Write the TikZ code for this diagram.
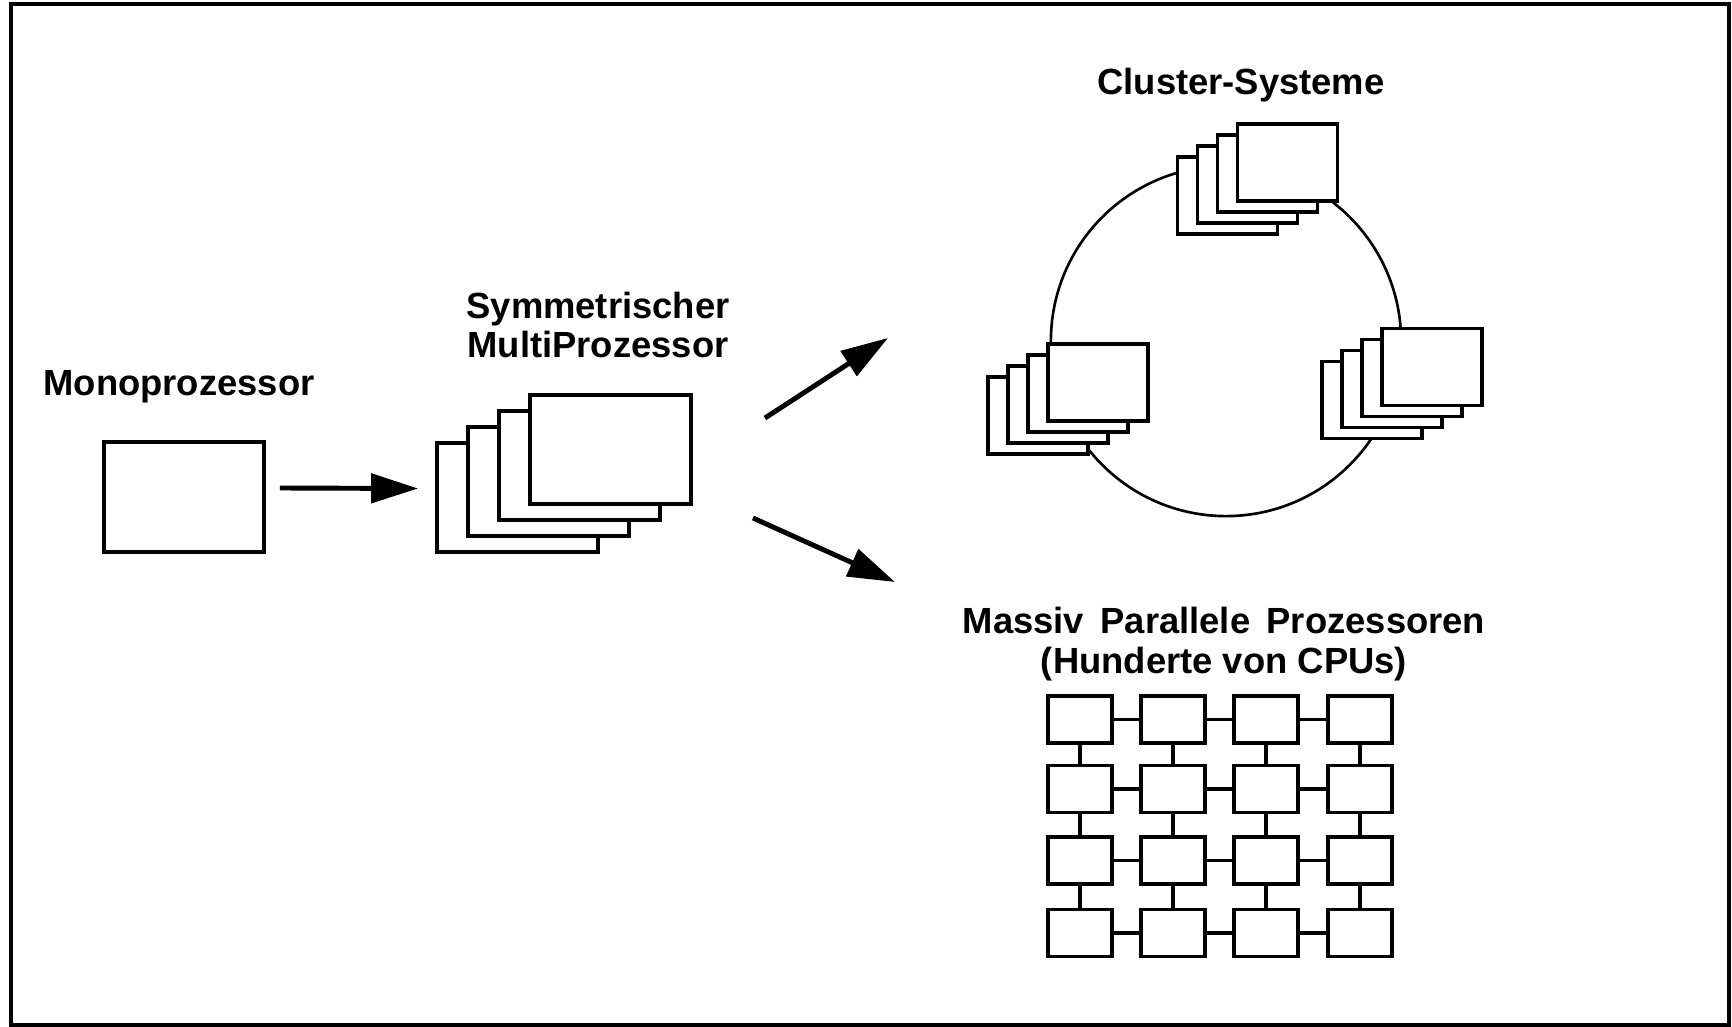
\documentclass[tikz,border=0pt]{standalone}
\usepackage{fontspec}
\setmainfont{Liberation Sans}
\usetikzlibrary{arrows.meta,positioning,calc}

\begin{document}
\begin{tikzpicture}[x=0.01cm,y=-0.01cm,
    cpu/.style={draw,fill=white,line width=1.05pt,inner sep=0pt},
    smpbox/.style={cpu,minimum width=1.61cm,minimum height=1.09cm},
    clbox/.style={cpu,minimum width=1.0cm,minimum height=0.77cm},
    mppbox/.style={cpu,minimum width=0.64cm,minimum height=0.47cm},
    title/.style={font=\fontsize{10.35}{11.2}\selectfont\bfseries,align=center,inner sep=0pt},
    bigarrow/.style={line width=1.4pt,-{Triangle[length=4.7mm,width=2.9mm]}},
    link/.style={line width=0.95pt}]
  \useasboundingbox (0,0) rectangle (1732,1027);
  %% outer frame
  \draw [line width=0.9pt] (11,4) rectangle (1729,1025);

  %% Monoprozessor
  \node [title] (monolbl) at (179,387) {Monoprozessor};
  \node [cpu,minimum width=1.6cm,minimum height=1.1cm] (mono) at (184,497) {};

  %% SMP, drawn back to front
  \node [title] (smplbl) at (598,325) {Symmetrischer\\MultiProzessor};
  \foreach \i in {3,2,1,0}
    \node [smpbox] (smp\i) at ({610.5-31*\i},{449.5+16*\i}) {};

  %% Cluster: ring first, the stacks lie on top of it
  \node [title] (cllbl) at (1241,85) {Cluster-Systeme};
  \node [draw,circle,minimum size=3.5cm,inner sep=0pt,line width=0.75pt] (ring) at (1226,341) {};
  \foreach \name/\cx/\cy in {top/1287.5/162.5, left/1098/382.5, right/1432/367} {
    \foreach \i in {3,2,1,0}
      \node [clbox] (\name\i) at ({\cx-20*\i},{\cy+11*\i}) {};
  }

  %% MPP grid
  \node [title] (mpplbl) at (1224,644) {Massiv\hspace{0.45em}Parallele\hspace{0.45em}Prozessoren\\(Hunderte von CPUs)};
  \foreach \row/\ypos in {1/719.5,2/789,3/860.5,4/933}
    \foreach \col/\xpos in {1/1080,2/1173,3/1266,4/1360}
      \node [mppbox] (p\row\col) at (\xpos,\ypos) {};
  \foreach \row in {1,2,3,4} {
    \foreach \col in {1,2,3} {
      \pgfmathtruncatemacro{\nxt}{\col+1}
      \draw [link] (p\row\col) -- (p\row\nxt);
      \draw [link] (p\col\row) -- (p\nxt\row);
    }
  }

  %% arrows
  \coordinate (upTail) at (765,418);
  \coordinate (upTip) at (888,338);
  \coordinate (downTail) at (753,518);
  \coordinate (downTip) at (895,582);
  \draw [bigarrow] ([xshift=0.14cm,yshift=0.09cm]mono.east) -- ([xshift=-0.17cm,yshift=0.09cm]smp3.west);
  \draw [bigarrow] (upTail) -- (upTip);
  \draw [bigarrow] (downTail) -- (downTip);
\end{tikzpicture}
\end{document}
